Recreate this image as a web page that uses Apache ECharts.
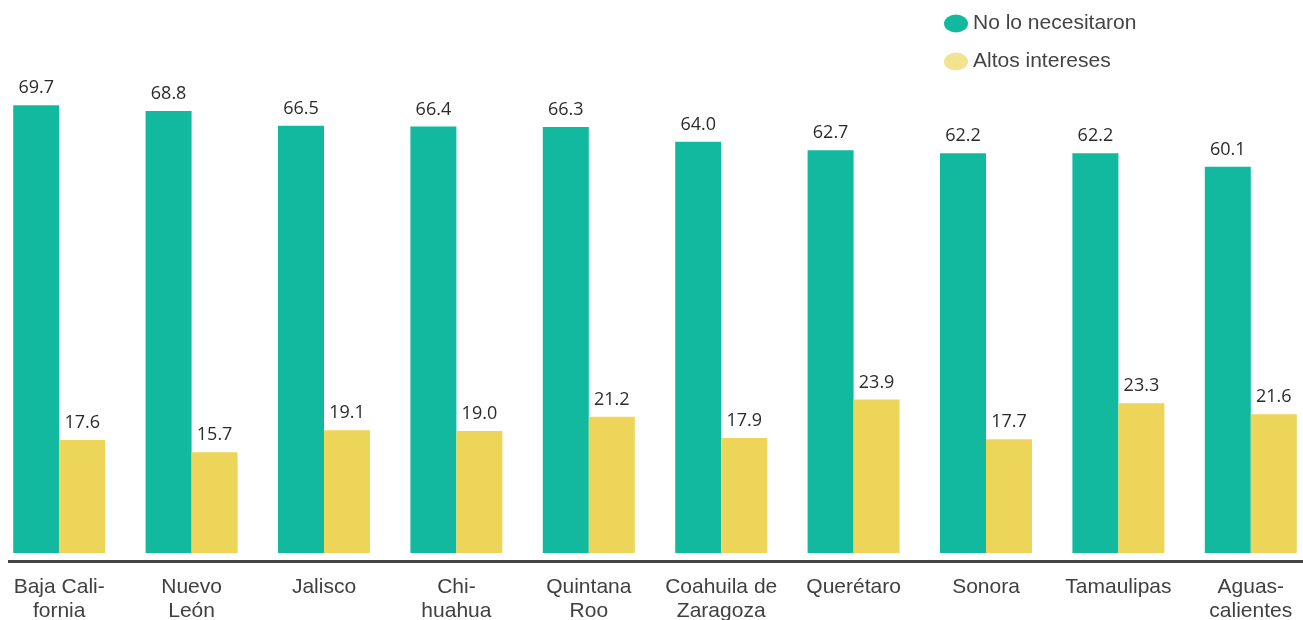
<!DOCTYPE html>
<html>
<head>
<meta charset="utf-8">
<style>
  html, body { margin: 0; padding: 0; background: #ffffff; overflow: hidden; }
  #chart { width: 1324px; height: 620px; margin-left: -7px; }
</style>
<script src="https://cdn.jsdelivr.net/npm/echarts@6/dist/echarts.min.js"></script>
</head>
<body>
<div id="chart"></div>
<script>
const categories = ['Baja Cali-\nfornia', 'Nuevo\nLeón', 'Jalisco', 'Chi-\nhuahua', 'Quintana\nRoo',
  'Coahuila de\nZaragoza', 'Querétaro', 'Sonora', 'Tamaulipas', 'Aguas-\ncalientes'];
const seriesNames = ['No lo necesitaron', 'Altos intereses'];
const noLoNecesitaron = [69.7, 68.8, 66.5, 66.4, 66.3, 64.0, 62.7, 62.2, 62.2, 60.1];
const altosIntereses = [17.6, 15.7, 19.1, 19.0, 21.2, 17.9, 23.9, 17.7, 23.3, 21.6];

const GREEN = '#13b99e';
const YELLOW = '#edd55a';
const ellipse = 'path://M0,9a12,9 0 1,0 24,0a12,9 0 1,0 -24,0z';

const chart = echarts.init(document.getElementById('chart'), null, { renderer: 'canvas' });
const labelCfg = {
  show: true,
  position: 'top',
  distance: 8,
  color: '#2b2b2b',
  fontFamily: 'Open Sans',
  fontSize: 18,
  formatter: p => p.value.toFixed(1)
};
chart.setOption({
  animation: false,
  backgroundColor: '#ffffff',
  legend: {
    orient: 'vertical',
    left: 946,
    top: 8,
    itemWidth: 24,
    itemHeight: 18,
    itemGap: 17,
    itemTextGap: 12,
    textStyle: { fontFamily: 'Liberation Sans', fontSize: 21, color: '#444444' },
    data: [
      { name: seriesNames[0], icon: ellipse, itemStyle: { color: GREEN } },
      { name: seriesNames[1], icon: ellipse, itemStyle: { color: '#f2e391' } }
    ]
  },
  graphic: [{
    type: 'line',
    shape: { x1: 15, y1: 561.5, x2: 1324, y2: 561.5 },
    style: { stroke: '#444444', lineWidth: 3 },
    silent: true
  }],
  grid: { left: 0, right: 0, top: 39, bottom: 67, containLabel: false, outerBoundsMode: 'none' },
  xAxis: {
    type: 'category',
    data: categories,
    axisLine: { show: false },
    axisTick: { show: false },
    axisLabel: {
      interval: 0,
      margin: 22,
      fontFamily: 'Liberation Sans',
      fontSize: 21,
      lineHeight: 24,
      color: '#404040'
    }
  },
  yAxis: {
    type: 'value',
    min: 0,
    max: 80,
    show: false,
    splitLine: { show: false }
  },
  series: [
    {
      name: seriesNames[0],
      type: 'bar',
      data: noLoNecesitaron,
      barWidth: 46,
      barGap: '0%',
      itemStyle: { color: GREEN },
      label: labelCfg
    },
    {
      name: seriesNames[1],
      type: 'bar',
      data: altosIntereses,
      barWidth: 46,
      barGap: '0%',
      itemStyle: { color: YELLOW },
      label: labelCfg
    }
  ]
});
</script>
</body>
</html>
